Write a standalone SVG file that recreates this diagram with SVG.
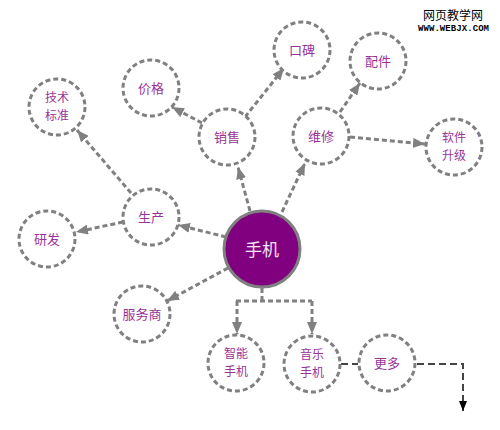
<svg xmlns="http://www.w3.org/2000/svg" width="500" height="430" viewBox="0 0 500 430">
<style>
.n{fill:#fff;stroke:#808080;stroke-width:3;stroke-dasharray:5,3}
.t{font-family:"Noto Sans CJK SC","Noto Sans CJK JP",sans-serif;font-size:13px;fill:#993399;text-anchor:middle}
.t2{font-size:12px}
.c{fill:none;stroke:#808080;stroke-width:3;stroke-dasharray:5,3}
.d{fill:none;stroke:#444;stroke-width:2;stroke-dasharray:7,4}
</style>
<defs>
<marker id="a" markerUnits="userSpaceOnUse" markerWidth="12" markerHeight="10" refX="12" refY="5" orient="auto"><path d="M0,0 L12,5 L0,10 z" fill="#808080"/></marker>
<marker id="b" markerUnits="userSpaceOnUse" markerWidth="10" markerHeight="8" refX="10" refY="4" orient="auto"><path d="M0,0 L10,4 L0,8 z" fill="#000"/></marker>
</defs>
<g id="connectors">
<path class="c" d="M226,237 L178,225" marker-end="url(#a)"/>
<path class="c" d="M123,222 L76,232" marker-end="url(#a)"/>
<path class="c" d="M131,193 L77,130" marker-end="url(#a)"/>
<path class="c" d="M250,211 L238,167" marker-end="url(#a)"/>
<path class="c" d="M202,123 L172,107" marker-end="url(#a)"/>
<path class="c" d="M245,117 L284,68" marker-end="url(#a)"/>
<path class="c" d="M282,212 L305,163" marker-end="url(#a)"/>
<path class="c" d="M340,112 L360,83" marker-end="url(#a)"/>
<path class="c" d="M350,137 L425,144" marker-end="url(#a)"/>
<path class="c" d="M228,268 L167,301" marker-end="url(#a)"/>
<path class="c" d="M262,288 L262,301 M236,301 L312,301"/>
<path class="c" d="M237,301 L237,334" marker-end="url(#a)"/>
<path class="c" d="M312,301 L312,334" marker-end="url(#a)"/>
<path class="d" d="M341,364 L358,364"/>
<path class="d" d="M417,364 L463,364 L463,411" marker-end="url(#b)"/>
</g>
<g id="n-shouji"><circle cx="262" cy="249" r="38" fill="#800080" stroke="#808080" stroke-width="3"/><text x="262" y="256" style="font-family:'Noto Sans CJK SC',sans-serif;font-size:17px;fill:#f5e6f5;text-anchor:middle">手机</text></g>
<g id="n-jishu"><circle class="n" cx="57" cy="107" r="28"/><text class="t t2" x="57" y="102">技术</text><text class="t t2" x="57" y="120">标准</text></g>
<g id="n-jiage"><circle class="n" cx="151" cy="88" r="28"/><text class="t" x="151" y="93">价格</text></g>
<g id="n-xiaoshou"><circle class="n" cx="227" cy="137" r="28"/><text class="t" x="227" y="142">销售</text></g>
<g id="n-koubei"><circle class="n" cx="302" cy="50" r="28"/><text class="t" x="302" y="55">口碑</text></g>
<g id="n-peijian"><circle class="n" cx="378" cy="61" r="28"/><text class="t" x="378" y="66">配件</text></g>
<g id="n-weixiu"><circle class="n" cx="321" cy="136" r="28"/><text class="t" x="321" y="141">维修</text></g>
<g id="n-ruanjian"><circle class="n" cx="454" cy="147" r="28"/><text class="t t2" x="454" y="142">软件</text><text class="t t2" x="454" y="160">升级</text></g>
<g id="n-shengchan"><circle class="n" cx="151" cy="217" r="28"/><text class="t" x="151" y="222">生产</text></g>
<g id="n-yanfa"><circle class="n" cx="47" cy="239" r="28"/><text class="t" x="47" y="244">研发</text></g>
<g id="n-fuwu"><circle class="n" cx="142" cy="314" r="28"/><text class="t" x="142" y="319">服务商</text></g>
<g id="n-zhineng"><circle class="n" cx="236" cy="363" r="28"/><text class="t t2" x="236" y="358">智能</text><text class="t t2" x="236" y="376">手机</text></g>
<g id="n-yinyue"><circle class="n" cx="312" cy="364" r="28"/><text class="t t2" x="312" y="359">音乐</text><text class="t t2" x="312" y="377">手机</text></g>
<g id="n-gengduo"><circle class="n" cx="387" cy="363" r="28"/><text class="t" x="387" y="368">更多</text></g>
<g id="watermark"><text x="453" y="20" style="font-family:'Noto Sans CJK SC',sans-serif;font-size:12px;fill:#000;text-anchor:middle">网页教学网</text><text x="418" y="31" textLength="71" style="font-family:'Liberation Mono',monospace;font-size:9px;font-weight:bold;fill:#000">WWW.WEBJX.COM</text></g>
</svg>
